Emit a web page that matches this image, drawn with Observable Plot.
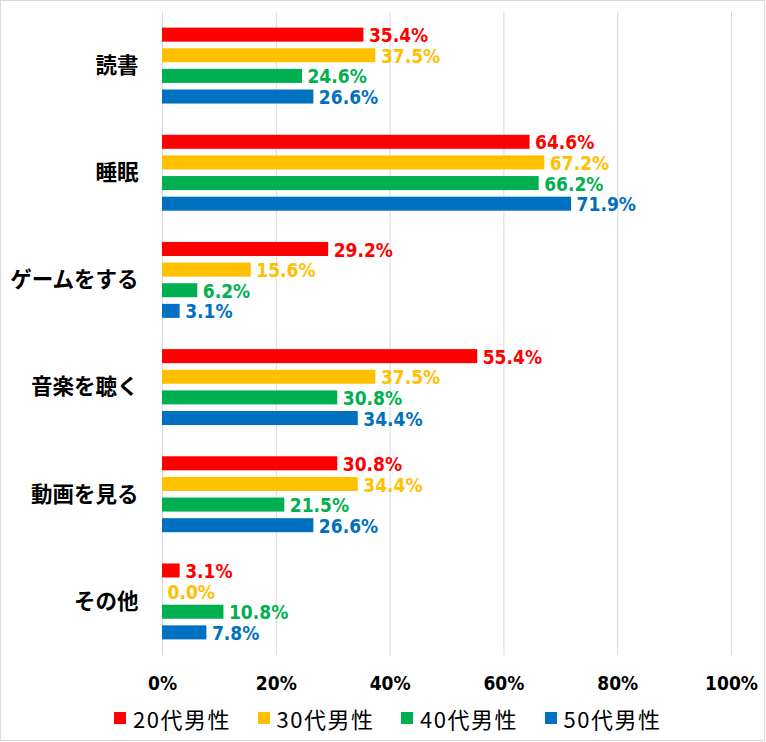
<!DOCTYPE html>
<html>
<head>
<meta charset="utf-8">
<script src="https://cdn.jsdelivr.net/npm/d3@7"></script>
<script src="https://cdn.jsdelivr.net/npm/@observablehq/plot@0.6"></script>
<style>
  html, body { margin: 0; padding: 0; background: #fff; }
  #frame { position: relative; width: 765px; height: 741px; box-sizing: border-box; border: 1px solid #d9d9d9; background: #fff; overflow: hidden; }
  #legend { position: absolute; left: 0; top: 699px; width: 100%; height: 36px; font-family: "Noto Sans CJK JP", "Noto Sans", sans-serif; font-size: 22px; color: #000; }
  .item { position: absolute; top: 0; height: 36px; display: flex; align-items: center; }
  .sw { width: 12px; height: 12px; margin-right: 7px; }
  .lbl { letter-spacing: 1.5px; }
</style>
</head>
<body>
<div id="frame">
  <div id="chart"></div>
  <div id="legend"></div>
</div>
<script>
const categories = ["読書", "睡眠", "ゲームをする", "音楽を聴く", "動画を見る", "その他"];
const series = ["20代男性", "30代男性", "40代男性", "50代男性"];
const colors = ["#FF0000", "#FFC000", "#00B050", "#0070C0"];
const values20 = [35.4, 64.6, 29.2, 55.4, 30.8, 3.1];
const values30 = [37.5, 67.2, 15.6, 37.5, 34.4, 0.0];
const values40 = [24.6, 66.2, 6.2, 30.8, 21.5, 10.8];
const values50 = [26.6, 71.9, 3.1, 34.4, 26.6, 7.8];
const xTicks = [0, 20, 40, 60, 80, 100];

const seriesValues = [values20, values30, values40, values50];
const data = [];
categories.forEach((c, ci) => {
  series.forEach((s, si) => {
    data.push({category: c, series: s, value: seriesValues[si][ci]});
  });
});

const narrow = "'Liberation Sans Narrow', 'Arial Narrow', 'DejaVu Sans Condensed', sans-serif";

const chart = Plot.plot({
  width: 763,
  height: 699,
  marginLeft: 161,
  marginRight: 33,
  marginTop: 11,
  marginBottom: 45,
  style: {fontFamily: "'Noto Sans CJK JP', sans-serif", background: "#fff", overflow: "visible"},
  x: {domain: [0, 100], axis: null},
  y: {domain: series, axis: null, paddingInner: 0.32, paddingOuter: 0.757, round: false},
  fy: {domain: categories, padding: 0, axis: null, round: false},
  color: {domain: series, range: colors},
  marks: [
    Plot.gridX(xTicks, {stroke: "#d9d9d9", strokeOpacity: 1, strokeWidth: 1}),
    Plot.barX(data, {x: "value", y: "series", fy: "category", fill: "series"}),
    Plot.text(data, {
      x: "value", y: "series", fy: "category", fill: "series",
      text: d => d.value.toFixed(1) + "%",
      textAnchor: "start", dx: 5, dy: 1,
      fontSize: 19, fontWeight: "bold", fontFamily: narrow
    }),
    Plot.axisFy({anchor: "left", tickSize: 0, tickPadding: 24, fontSize: 21.5, fontWeight: "bold", fill: "#000", label: null, fontFamily: "'Noto Sans CJK JP', sans-serif"}),
    Plot.axisX(xTicks, {tickSize: 0, tickPadding: 21, tickFormat: d => d + "%", fontSize: 19, fontWeight: "bold", fill: "#000", label: null, fontFamily: narrow})
  ]
});
document.getElementById("chart").appendChild(chart);

const legend = document.getElementById("legend");
series.forEach((s, i) => {
  const item = document.createElement("div");
  item.className = "item";
  item.style.left = (113 + i * 143.5) + "px";
  const sw = document.createElement("div");
  sw.className = "sw";
  sw.style.background = colors[i];
  const lbl = document.createElement("span");
  lbl.className = "lbl";
  lbl.textContent = s;
  item.appendChild(sw);
  item.appendChild(lbl);
  legend.appendChild(item);
});
</script>
</body>
</html>
